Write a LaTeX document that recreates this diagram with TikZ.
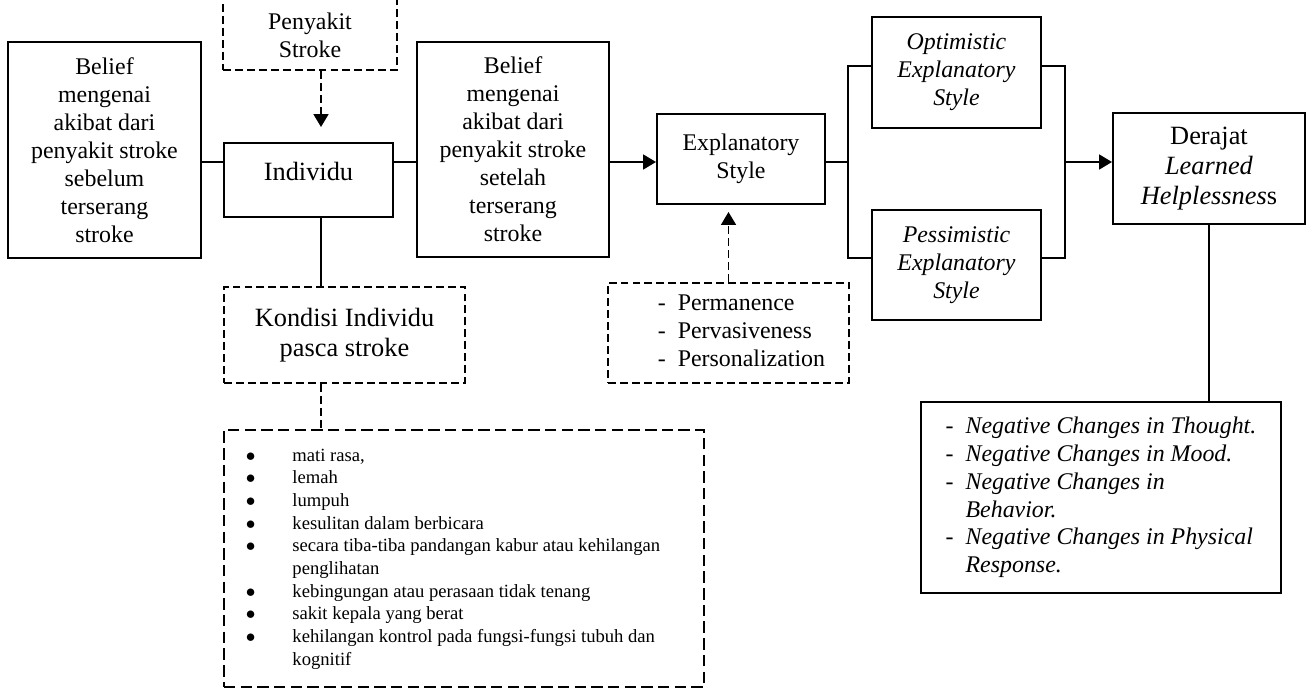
\documentclass[tikz,border=0pt]{standalone}
\usepackage{fontspec}
\setmainfont{Liberation Serif}
\usetikzlibrary{arrows.meta}
\newcommand{\pxu}{0.02cm}

\begin{document}
\begin{tikzpicture}[x=0.02cm, y=-0.02cm,
    kotak/.style={draw, line width=1.1pt, align=center, inner sep=0pt,
        font=\fontsize{13.6}{15.9}\selectfont},
    kotakputus/.style={kotak, dash pattern=on 4.5pt off 2.3pt},
    besar/.style={font=\fontsize{15}{17}\selectfont},
    miring/.style={font=\fontsize{13.6}{15.9}\selectfont\itshape},
    ukuran/.style 2 args={minimum width=#1*\pxu, minimum height=#2*\pxu},
    garis/.style={line width=1.1pt},
    garisputus/.style={garis, dash pattern=on 4.5pt off 2.3pt},
    panah/.style={garis, -{Triangle[length=7.4pt,width=8.5pt]}},
    panahputus/.style={panah, dash pattern=on 4.5pt off 2.3pt}]
    \useasboundingbox (0,0) rectangle (1311,690);

    % Titik bantu untuk garis
    \coordinate (tengah) at (0,162);
    \coordinate (sumbu) at (321,0);
    \coordinate (atas) at (0,66);
    \coordinate (bawah) at (0,258);
    \coordinate (cabangkiri) at (848,162);
    \coordinate (cabangkanan) at (1065,162);

    % Kotak utama
    \node[kotakputus, ukuran={174}{80}] (penyakit) at (310,30) {\mbox{}\\Penyakit\\Stroke};
    \node[kotak, ukuran={193}{216}] (beliefa) at (104.5,150)
        {Belief\\mengenai\\akibat dari\\penyakit stroke\\sebelum\\terserang\\stroke};
    \node[kotak, besar, ukuran={169}{74}, text depth=10pt] (individu) at (308.5,180) {Individu};
    \node[kotak, ukuran={192}{215}] (beliefb) at (513,149.5)
        {Belief\\mengenai\\akibat dari\\penyakit stroke\\setelah\\terserang\\stroke};
    \node[kotak, ukuran={168}{90}] (explanatory) at (741,159) {Explanatory\\Style};
    \node[kotak, miring, ukuran={169}{111}] (optimistic) at (956.5,72.5)
        {Optimistic\\Explanatory\\Style};
    \node[kotak, miring, ukuran={169}{110}] (pessimistic) at (956.5,265)
        {Pessimistic\\Explanatory\\Style};
    \node[kotak, besar, ukuran={192}{111}] (derajat) at (1209,168.5)
        {Derajat\\\textit{Learned}\\\textit{Helplessnes}s};

    % Kotak keterangan
    \node[kotakputus, besar, ukuran={241}{96}] (kondisi) at (344.5,335)
        {Kondisi Individu\\pasca stroke};
    \node[kotakputus, ukuran={241}{100}] (dimensi) at (728.5,333)
        {\begin{tabular}{@{\hspace{14.8pt}}l@{\hspace{6.8pt}}l@{}}
            - & Permanence\\
            - & Pervasiveness\\
            - & Personalization
        \end{tabular}};
    \node[kotak, ukuran={360}{191}] (negatif) at (1101,497.5)
        {\begin{tabular}{@{}l@{\hspace{6.8pt}}l@{}}
            - & \textit{Negative Changes in Thought.}\\
            - & \textit{Negative Changes in Mood.}\\
            - & \textit{Negative Changes in}\\
              & \textit{Behavior.}\\
            - & \textit{Negative Changes in Physical}\\
              & \textit{Response.}
        \end{tabular}};
    \node[kotak, line width=1.6pt, dash pattern=on 6.5pt off 3pt,
        font=\fontsize{10.6}{12.9}\selectfont, ukuran={480}{257}] (gejala) at (464,558.5)
        {\begin{tabular}{@{}l@{\hspace{21pt}}l@{\hspace{12.5pt}}}
            $\bullet$ & mati rasa,\\
            $\bullet$ & lemah\\
            $\bullet$ & lumpuh\\
            $\bullet$ & kesulitan dalam berbicara\\
            $\bullet$ & secara tiba-tiba pandangan kabur atau kehilangan\\
                      & penglihatan\\
            $\bullet$ & kebingungan atau perasaan tidak tenang\\
            $\bullet$ & sakit kepala yang berat\\
            $\bullet$ & kehilangan kontrol pada fungsi-fungsi tubuh dan\\
                      & kognitif
        \end{tabular}};

    % Garis penghubung
    \draw[panahputus, shorten >=0.3cm] (penyakit.south -| sumbu) -- (individu.north -| sumbu);
    \draw[garis] (beliefa.east |- tengah) -- (individu.west |- tengah);
    \draw[garis] (individu.east |- tengah) -- (beliefb.west |- tengah);
    \draw[panah] (beliefb.east |- tengah) -- (explanatory.west |- tengah);
    \draw[garis] (explanatory.east |- tengah) -- (cabangkiri);
    \draw[garis] (optimistic.west |- atas) -| (cabangkiri) |- (pessimistic.west |- bawah);
    \draw[garis] (optimistic.east |- atas) -| (cabangkanan) |- (pessimistic.east |- bawah);
    \draw[panah] (cabangkanan) -- (derajat.west |- tengah);
    \draw[garis] (derajat.south) -- (negatif.north -| derajat.south);
    \draw[panahputus, shorten >=0.14cm] (dimensi.north) -- (explanatory.south -| dimensi.north);
    \draw[garis] (individu.south -| sumbu) -- (kondisi.north -| sumbu);
    \draw[garisputus] (kondisi.south -| sumbu) -- (gejala.north -| sumbu);
\end{tikzpicture}
\end{document}
